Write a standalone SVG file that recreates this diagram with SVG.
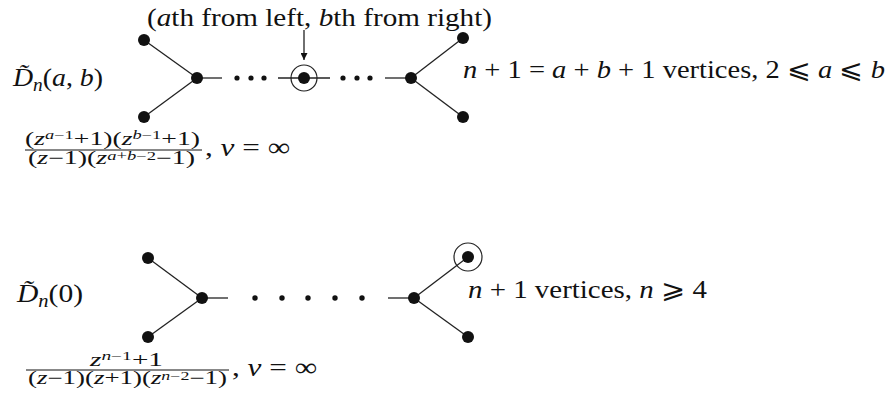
<svg xmlns="http://www.w3.org/2000/svg" width="892" height="396" viewBox="0 0 892 396">
<defs>
<style>
.t{font-family:"Liberation Serif","Times New Roman","DejaVu Serif",serif;fill:#111;font-size:26px}
.s{font-size:18px}
.i{font-style:italic}
.sup{font-size:12px}
.edge{stroke:#222;stroke-width:1.3;fill:none}
.dot{fill:#111}
.sm{fill:#111}
.ring{fill:none;stroke:#222;stroke-width:1.2}
</style>
<marker id="ah" viewBox="0 0 10 10" refX="10" refY="5" markerWidth="9" markerHeight="7" markerUnits="userSpaceOnUse" orient="auto">
<path d="M0,0 L10,5 L0,10 z" fill="#111"/>
</marker>
</defs>
<rect width="892" height="396" fill="#fff"/>

<g id="connectors">
<line class="edge" x1="144" y1="40" x2="197" y2="78"/>
<line class="edge" x1="144" y1="117" x2="197" y2="78"/>
<line class="edge" x1="197" y1="78" x2="222" y2="78"/>
<line class="edge" x1="278" y1="78" x2="330" y2="78"/>
<line class="edge" x1="385" y1="78" x2="411" y2="78"/>
<line class="edge" x1="411" y1="78" x2="463" y2="38"/>
<line class="edge" x1="411" y1="78" x2="463" y2="117"/>
<line class="edge" x1="304" y1="30" x2="304" y2="60" marker-end="url(#ah)"/>
<line class="edge" x1="148" y1="258" x2="202" y2="298"/>
<line class="edge" x1="148" y1="337" x2="202" y2="298"/>
<line class="edge" x1="202" y1="298" x2="228" y2="298"/>
<line class="edge" x1="388" y1="298" x2="414" y2="298"/>
<line class="edge" x1="414" y1="298" x2="468" y2="257"/>
<line class="edge" x1="414" y1="298" x2="468" y2="337"/>
</g>

<g id="top-graph">
<g id="t-l1"><circle class="dot" cx="144" cy="40" r="6"/></g>
<g id="t-l2"><circle class="dot" cx="144" cy="117" r="6"/></g>
<g id="t-c1"><circle class="dot" cx="197" cy="78" r="6"/></g>
<g id="t-dots1"><circle class="sm" cx="237" cy="78" r="2.6"/><circle class="sm" cx="251" cy="78" r="2.6"/><circle class="sm" cx="264" cy="78" r="2.6"/></g>
<g id="t-mid"><circle class="dot" cx="304" cy="78" r="6"/><circle class="ring" cx="304" cy="78" r="13"/></g>
<g id="t-dots2"><circle class="sm" cx="343" cy="78" r="2.6"/><circle class="sm" cx="357" cy="78" r="2.6"/><circle class="sm" cx="370" cy="78" r="2.6"/></g>
<g id="t-c2"><circle class="dot" cx="411" cy="78" r="6"/></g>
<g id="t-r1"><circle class="dot" cx="463" cy="38" r="6"/></g>
<g id="t-r2"><circle class="dot" cx="463" cy="117" r="6"/></g>
</g>

<g id="bottom-graph">
<g id="b-l1"><circle class="dot" cx="148" cy="258" r="6"/></g>
<g id="b-l2"><circle class="dot" cx="148" cy="337" r="6"/></g>
<g id="b-c1"><circle class="dot" cx="202" cy="298" r="6"/></g>
<g id="b-dots"><circle class="sm" cx="255" cy="298" r="2.7"/><circle class="sm" cx="282" cy="298" r="2.7"/><circle class="sm" cx="308" cy="298" r="2.7"/><circle class="sm" cx="335" cy="298" r="2.7"/><circle class="sm" cx="362" cy="298" r="2.7"/></g>
<g id="b-c2"><circle class="dot" cx="414" cy="298" r="6"/></g>
<g id="b-r1"><circle class="dot" cx="468" cy="257" r="6"/><circle class="ring" cx="468" cy="257" r="14"/></g>
<g id="b-r2"><circle class="dot" cx="468" cy="337" r="6"/></g>
</g>

<g id="labels">
<text class="t" x="147" y="26" textLength="345" lengthAdjust="spacingAndGlyphs">(<tspan class="i">a</tspan>th from left, <tspan class="i">b</tspan>th from right)</text>
<text class="t" x="13" y="86" textLength="90" lengthAdjust="spacingAndGlyphs"><tspan class="i">D̃</tspan><tspan class="i s" dy="5">n</tspan><tspan dy="-5">(</tspan><tspan class="i">a</tspan>, <tspan class="i">b</tspan>)</text>
<text class="t" x="463" y="78" textLength="422" lengthAdjust="spacingAndGlyphs"><tspan class="i">n</tspan> + 1 = <tspan class="i">a</tspan> + <tspan class="i">b</tspan> + 1 vertices, 2 ⩽ <tspan class="i">a</tspan> ⩽ <tspan class="i">b</tspan></text>

<text class="t s" x="25" y="145" textLength="175" lengthAdjust="spacingAndGlyphs">(<tspan class="i">z</tspan><tspan class="sup" dy="-6"><tspan class="i">a</tspan>−1</tspan><tspan dy="6">+1)(</tspan><tspan class="i">z</tspan><tspan class="sup" dy="-6"><tspan class="i">b</tspan>−1</tspan><tspan dy="6">+1)</tspan></text>
<line x1="25" y1="150" x2="202" y2="150" stroke="#111" stroke-width="1"/>
<text class="t s" x="28" y="164" textLength="167" lengthAdjust="spacingAndGlyphs">(<tspan class="i">z</tspan>−1)(<tspan class="i">z</tspan><tspan class="sup" dy="-4.5"><tspan class="i">a</tspan>+<tspan class="i">b</tspan>−2</tspan><tspan dy="4.5">−1)</tspan></text>
<text class="t" x="205" y="156" textLength="85" lengthAdjust="spacingAndGlyphs">, <tspan class="i">ν</tspan> = ∞</text>

<text class="t" x="17" y="302" textLength="66" lengthAdjust="spacingAndGlyphs"><tspan class="i">D̃</tspan><tspan class="i s" dy="5">n</tspan><tspan dy="-5">(0)</tspan></text>
<text class="t" x="468" y="298" textLength="239" lengthAdjust="spacingAndGlyphs"><tspan class="i">n</tspan> + 1 vertices, <tspan class="i">n</tspan> ⩾ 4</text>

<text class="t s" x="90" y="366" textLength="73" lengthAdjust="spacingAndGlyphs"><tspan class="i">z</tspan><tspan class="sup" dy="-6"><tspan class="i">n</tspan>−1</tspan><tspan dy="6">+1</tspan></text>
<line x1="26" y1="370" x2="229" y2="370" stroke="#111" stroke-width="1"/>
<text class="t s" x="28" y="384" textLength="199" lengthAdjust="spacingAndGlyphs">(<tspan class="i">z</tspan>−1)(<tspan class="i">z</tspan>+1)(<tspan class="i">z</tspan><tspan class="sup" dy="-4.5"><tspan class="i">n</tspan>−2</tspan><tspan dy="4.5">−1)</tspan></text>
<text class="t" x="232" y="376" textLength="85" lengthAdjust="spacingAndGlyphs">, <tspan class="i">ν</tspan> = ∞</text>
</g>
</svg>
